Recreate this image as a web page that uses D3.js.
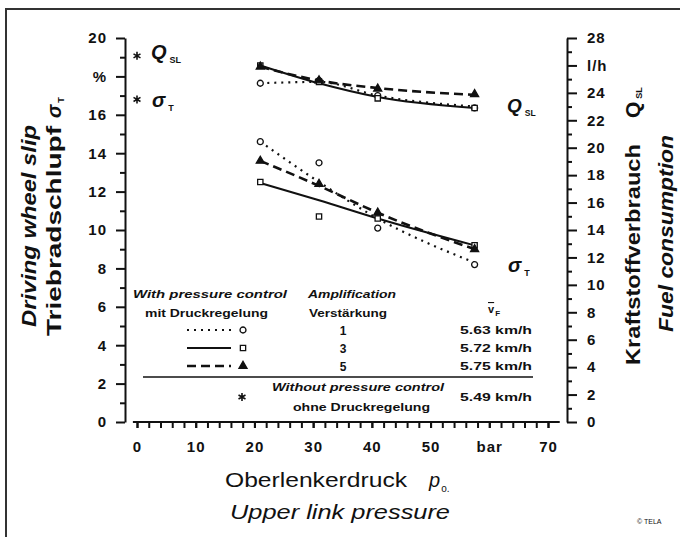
<!DOCTYPE html>
<html>
<head>
<meta charset="utf-8">
<script src="https://cdn.jsdelivr.net/npm/d3@7"></script>
<style>
  body { margin: 0; background: #fff; }
  text { font-family: "Liberation Sans", Arial, sans-serif; fill: #111; }
</style>
</head>
<body>
<div id="wrapper"></div>
<script>
// upper link pressure (bar) where the runs were measured
const pressure = [21, 31, 41, 57.5];

// fuel consumption Q_SL (l/h), fitted lines
const fuelDotted = [24.7, 24.8, 23.8, 23.0];
const fuelSolid = [26.0, 24.7, 23.7, 22.9];
const fuelDashed = [25.9, 24.9, 24.35, 23.85];
// fuel consumption, measured points
const fuelDottedPts = [24.7, 24.9, 23.8, 22.9];
const fuelSolidPts = [26.0, 24.8, 23.6, 22.9];
const fuelDashedPts = [25.9, 24.9, 24.3, 23.9];

// driving wheel slip sigma_T (%), fitted lines
const slipDotted = [14.6, 12.5, 10.6, 8.3];
const slipSolid = [12.45, 11.55, 10.6, 9.2];
const slipDashed = [13.6, 12.3, 10.9, 9.0];
// slip, measured points
const slipDottedPts = [14.6, 13.5, 10.1, 8.2];
const slipSolidPts = [12.5, 10.7, 10.6, 9.2];
const slipDashedPts = [13.6, 12.4, 10.9, 9.0];

// without pressure control (plotted at 0 bar)
const noControlFuel = 26.7;
const noControlSlip = 16.8;
const noControlSpeed = "5.49 km/h";

const amplification = ["1", "3", "5"];
const speeds = ["5.63 km/h", "5.72 km/h", "5.75 km/h"];

const leftTicks = d3.range(0, 21, 2);
const rightTicks = d3.range(0, 29, 2);
const xLabelTicks = d3.range(0, 71, 10);

const svg = d3.select("#wrapper")
  .append("svg")
    .attr("width", 680)
    .attr("height", 537);

// scanned frame
svg.append("rect")
  .attr("x", 6).attr("y", 9)
  .attr("width", 700).attr("height", 560)
  .attr("fill", "none")
  .attr("stroke", "#333")
  .attr("stroke-width", 2);

const x = d3.scaleLinear().domain([0, 70]).range([137, 548]);
const yL = d3.scaleLinear().domain([0, 20]).range([422, 38]);
const yR = d3.scaleLinear().domain([0, 28]).range([422, 38]);

function styleAxis(g) {
  g.selectAll("path, line").attr("stroke", "#111").attr("stroke-width", 2);
  g.selectAll("text")
    .style("font-family", "'Liberation Sans', Arial, sans-serif")
    .style("font-size", "15px")
    .style("font-weight", "bold")
    .style("letter-spacing", "1px")
    .attr("fill", "#111");
}

// left axis
svg.append("g")
  .attr("transform", "translate(125,0)")
  .call(d3.axisLeft(yL).tickValues(d3.range(1, 20, 2)).tickSize(5).tickFormat(""))
  .call(g => g.select(".domain").remove())
  .call(styleAxis);
svg.append("g")
  .attr("transform", "translate(125,0)")
  .call(d3.axisLeft(yL).tickValues(leftTicks).tickSize(9).tickSizeOuter(0).tickPadding(9)
    .tickFormat(d => d === 18 ? "%" : d))
  .call(styleAxis);

// right axis
svg.append("g")
  .attr("transform", "translate(567,0)")
  .call(d3.axisRight(yR).tickValues(d3.range(1, 28, 2)).tickSize(5).tickFormat(""))
  .call(g => g.select(".domain").remove())
  .call(styleAxis);
svg.append("g")
  .attr("transform", "translate(567,0)")
  .call(d3.axisRight(yR).tickValues(rightTicks).tickSize(10).tickSizeOuter(0).tickPadding(10)
    .tickFormat(d => d === 26 ? "l/h" : d))
  .call(styleAxis);

// bottom axis
svg.append("g")
  .attr("transform", "translate(0,422)")
  .call(d3.axisBottom(x).tickValues(d3.range(0, 71, 2)).tickSize(6).tickFormat(""))
  .call(g => g.select(".domain").remove())
  .call(styleAxis);
svg.append("g")
  .attr("transform", "translate(0,422)")
  .call(d3.axisBottom(x).tickValues(xLabelTicks).tickSize(6).tickPadding(13)
    .tickFormat(d => d === 60 ? "bar" : d))
  .call(g => g.select(".domain").remove())
  .call(styleAxis);
svg.append("line")
  .attr("x1", x(-0.7)).attr("x2", x(72))
  .attr("y1", 422).attr("y2", 422)
  .attr("stroke", "#111").attr("stroke-width", 2);

// series styles
const styles = [
  { dash: "2,5", width: 2.2, symbol: d3.symbolCircle, fill: "#fff" },
  { dash: null, width: 2, symbol: d3.symbolSquare, fill: "#fff" },
  { dash: "9,5", width: 2.6, symbol: d3.symbolTriangle, fill: "#111" }
];

const fuelLines = [fuelDotted, fuelSolid, fuelDashed];
const fuelPts = [fuelDottedPts, fuelSolidPts, fuelDashedPts];
const slipLines = [slipDotted, slipSolid, slipDashed];
const slipPts = [slipDottedPts, slipSolidPts, slipDashedPts];

function drawSeries(lines, pts, yScale) {
  lines.forEach((vals, k) => {
    const st = styles[k];
    const line = d3.line()
      .x((d, i) => x(pressure[i]))
      .y(d => yScale(d))
      .curve(d3.curveMonotoneX);
    svg.append("path")
      .datum(vals)
      .attr("d", line)
      .attr("fill", "none")
      .attr("stroke", "#111")
      .attr("stroke-width", st.width)
      .attr("stroke-dasharray", st.dash);
    svg.selectAll(null)
      .data(pts[k])
      .join("path")
        .attr("transform", (d, i) => `translate(${x(pressure[i])},${yScale(d)})`)
        .attr("d", d3.symbol().type(st.symbol).size(28))
        .attr("fill", st.fill)
        .attr("stroke", "#111")
        .attr("stroke-width", 1.3);
  });
}
drawSeries(fuelLines, fuelPts, yR);
drawSeries(slipLines, slipPts, yL);

// without pressure control markers
const star = d3.symbol().type(d3.symbolAsterisk).size(45);
svg.append("path")
  .attr("transform", `translate(${x(0)},${yR(noControlFuel)})`)
  .attr("d", star).attr("fill", "none").attr("stroke", "#111").attr("stroke-width", 1.6);
svg.append("path")
  .attr("transform", `translate(${x(0)},${yL(noControlSlip)})`)
  .attr("d", star).attr("fill", "none").attr("stroke", "#111").attr("stroke-width", 1.6);

function symbolLabel(xp, yp, main, sub, size) {
  const t = svg.append("text").attr("x", xp).attr("y", yp)
    .style("font-size", size + "px").style("font-weight", "bold").style("font-style", "italic");
  t.append("tspan").text(main);
  t.append("tspan").attr("dx", 3).attr("dy", 4).style("font-size", (size * 0.45) + "px")
    .style("font-style", "normal").text(sub);
}
symbolLabel(151, 59, "Q", "SL", 20);
symbolLabel(152, 107, "σ", "T", 20);
symbolLabel(507, 112, "Q", "SL", 19);
symbolLabel(508, 272, "σ", "T", 20);

// axis titles
function rotTitle(xp, yp, parts) {
  const t = svg.append("text")
    .attr("transform", `translate(${xp},${yp}) rotate(-90)`)
    .style("font-weight", "bold");
  parts.forEach(p => {
    const s = t.append("tspan").text(p.text);
    if (p.size) s.style("font-size", p.size + "px");
    if (p.italic) s.style("font-style", "italic");
    if (p.len) s.attr("textLength", p.len).attr("lengthAdjust", "spacingAndGlyphs");
    if (p.dx) s.attr("dx", p.dx);
    if (p.dy) s.attr("dy", p.dy);
  });
}
rotTitle(36, 327, [{ text: "Driving wheel slip", size: 20, italic: true, len: 202 }]);
rotTitle(61, 336, [
  { text: "Triebradschlupf", size: 20, len: 210 },
  { text: "σ", size: 20, italic: true, dx: 8 },
  { text: "T", size: 9, dx: 2, dy: 3 }
]);
rotTitle(640, 365, [
  { text: "Kraftstoffverbrauch", size: 21, len: 221 },
  { text: "Q", size: 21, dx: 26 },
  { text: "SL", size: 9, dx: 3, dy: 2 }
]);
rotTitle(673, 332, [{ text: "Fuel consumption", size: 20, italic: true, len: 197 }]);

const xTitle = svg.append("text").attr("x", 225).attr("y", 487).style("font-size", "20px");
xTitle.append("tspan").text("Oberlenkerdruck").attr("textLength", 182).attr("lengthAdjust", "spacingAndGlyphs");
xTitle.append("tspan").attr("dx", 22).style("font-style", "italic").text("p");
xTitle.append("tspan").attr("dx", 1).attr("dy", 5).style("font-size", "10px").text("o.");

svg.append("text").attr("x", 230).attr("y", 519)
  .style("font-size", "20px").style("font-style", "italic")
  .attr("textLength", 220).attr("lengthAdjust", "spacingAndGlyphs")
  .text("Upper link pressure");

// legend table
function small(xp, yp, txt, opts = {}) {
  const t = svg.append("text").attr("x", xp).attr("y", yp)
    .style("font-size", (opts.size || 10.5) + "px")
    .style("font-weight", "bold")
    .attr("text-anchor", opts.anchor || "start")
    .text(txt);
  if (opts.italic) t.style("font-style", "italic");
  if (opts.len) t.attr("textLength", opts.len).attr("lengthAdjust", "spacingAndGlyphs");
  return t;
}
small(133, 298, "With pressure control", { italic: true, len: 154 });
small(308, 298, "Amplification", { italic: true, len: 88 });
small(145, 317, "mit Druckregelung", { len: 123 });
small(309, 317, "Verstärkung", { len: 78 });

const vf = svg.append("text").attr("x", 488).attr("y", 313)
  .style("font-size", "11px").style("font-weight", "bold");
vf.append("tspan").style("text-decoration", "overline").text("v");
vf.append("tspan").attr("dx", 1).attr("dy", 3).style("font-size", "8px").text("F");

const rowY = [330, 348, 366];
rowY.forEach((yy, k) => {
  const st = styles[k];
  svg.append("line")
    .attr("x1", 187).attr("x2", 231).attr("y1", yy).attr("y2", yy)
    .attr("stroke", "#111").attr("stroke-width", st.width)
    .attr("stroke-dasharray", st.dash);
  svg.append("path")
    .attr("transform", `translate(243,${yy})`)
    .attr("d", d3.symbol().type(st.symbol).size(28))
    .attr("fill", st.fill).attr("stroke", "#111").attr("stroke-width", 1.3);
  small(343, yy + 5, amplification[k], { anchor: "middle", size: 12 });
  small(532, yy + 4, speeds[k], { anchor: "end", len: 72 });
});

svg.append("line")
  .attr("x1", 143).attr("x2", 533).attr("y1", 377).attr("y2", 377)
  .attr("stroke", "#111").attr("stroke-width", 1.6);

svg.append("path")
  .attr("transform", "translate(242,397)")
  .attr("d", star).attr("fill", "none").attr("stroke", "#111").attr("stroke-width", 1.6);
small(272, 391, "Without pressure control", { italic: true, len: 172 });
small(293, 411, "ohne Druckregelung", { len: 137 });
small(532, 401, noControlSpeed, { anchor: "end", len: 72 });

// source mark
svg.append("text").attr("x", 637).attr("y", 524)
  .style("font-size", "7px").text("© TELA");
</script>
</body>
</html>
